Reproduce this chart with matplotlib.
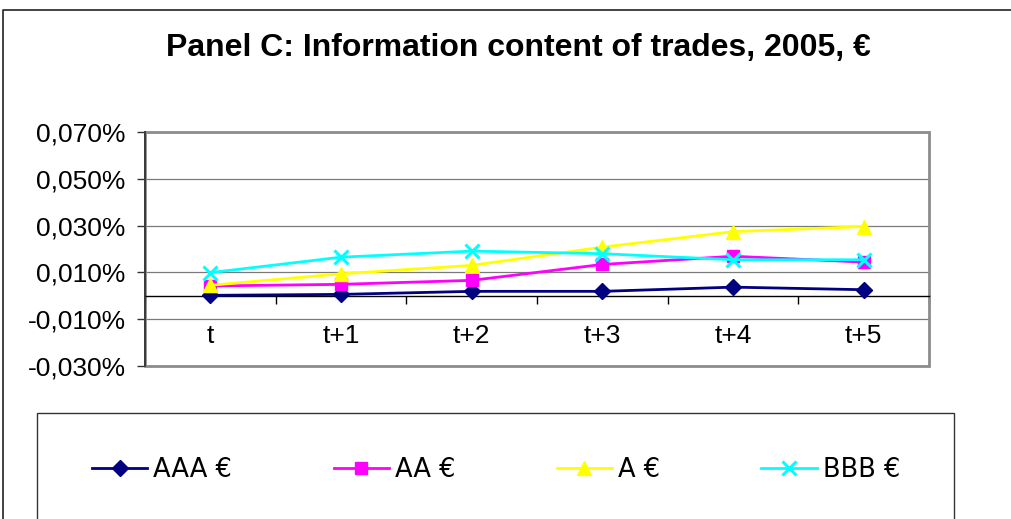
import matplotlib
matplotlib.use("Agg")
import matplotlib.pyplot as plt
from matplotlib.lines import Line2D
from matplotlib.patches import Rectangle

# ---- data (values in percent) ----
categories = ["t", "t+1", "t+2", "t+3", "t+4", "t+5"]
aaa = [0.0002, 0.0006, 0.0019, 0.0019, 0.0037, 0.0026]
aa = [0.0042, 0.0049, 0.0066, 0.0134, 0.0169, 0.0144]
a = [0.0045, 0.0094, 0.0130, 0.0208, 0.0274, 0.0296]
bbb = [0.0099, 0.0165, 0.0191, 0.0180, 0.0154, 0.0154]
series_names = ["AAA €", "AA €", "A €", "BBB €"]
yticks = [-0.03, -0.01, 0.01, 0.03, 0.05, 0.07]
title = "Panel C: Information content of trades, 2005, €"

W, H = 1012, 519
fig = plt.figure(figsize=(W / 100, H / 100), dpi=100)
fig.patch.set_facecolor("white")

def fx(px):
    return px / W

def fy(py):
    return 1 - py / H

ax = fig.add_axes([fx(145), fy(366), fx(929) - fx(145), fy(132) - fy(366)])
ax.set_facecolor("white")

x = list(range(len(categories)))
styles = [
    (aaa, "#000080", "D", 8.0, 1.0),
    (aa, "#FF00FF", "s", 8.5, 1.0),
    (a, "#FFFF00", "^", 10.0, 1.0),
    (bbb, "#00FFFF", "x", 10.0, 2.2),
]
handles = []
for (vals, col, mk, ms, mew), name in zip(styles, series_names):
    (ln,) = ax.plot(x, vals, color=col, lw=2.0, marker=mk, ms=ms,
                    mfc=col, mec=col, mew=mew, label=name, zorder=3,
                    clip_on=False)
    handles.append(ln)

ax.set_xlim(-0.5, len(categories) - 0.5)
ax.set_ylim(-0.03, 0.07)

# y axis
ax.set_yticks(yticks)
ax.set_yticklabels([f"{v:.3f}%".replace(".", ",") for v in yticks],
                   fontsize=19, family="Liberation Sans")
ax.tick_params(axis="y", direction="out", length=6, width=1.0,
               color="#333333", pad=8)
ax.yaxis.grid(True, color="#7a7a7a", lw=0.9)
ax.set_axisbelow(True)

# x axis crossing at zero
ax.spines["bottom"].set_position(("data", 0))
ax.spines["bottom"].set_color("black")
ax.spines["bottom"].set_linewidth(1.0)
ax.spines["bottom"].set_zorder(2)
ax.set_xticks(x)
ax.set_xticklabels(categories, fontsize=19, family="Liberation Sans")
ax.set_xticks([i - 0.5 for i in range(len(categories) + 1)], minor=True)
ax.tick_params(axis="x", which="major", length=0, pad=20)
ax.tick_params(axis="x", which="minor", direction="out", length=6,
               width=1.0, color="black")

ax.spines["top"].set_visible(False)
ax.spines["right"].set_visible(False)
ax.spines["left"].set_color("#333333")
ax.spines["left"].set_linewidth(1.3)
ax.spines["left"].set_zorder(4)

# plot area border (gray)
ax.add_patch(Rectangle((0, 0), 1, 1, transform=ax.transAxes, fill=False,
                       edgecolor="#8c8c8c", lw=2.0, zorder=1, clip_on=False))

# title
fig.text(fx(518), fy(48), title, ha="center", va="center", fontsize=23,
         fontweight="bold", family="Liberation Sans")

# chart outer border (left and top visible)
fig.add_artist(Line2D([fx(3), fx(3), fx(1015)], [fy(525), fy(10), fy(10)],
                      transform=fig.transFigure, color="#222222", lw=1.2))

# legend box
fig.add_artist(Rectangle((fx(37), fy(530)), fx(954) - fx(37), fy(413) - fy(530),
                         transform=fig.transFigure, fill=False,
                         edgecolor="#333333", lw=1.0))

leg = fig.legend(handles=handles, labels=series_names, loc="center left",
                 bbox_to_anchor=(fx(92), fy(470)), ncol=4, frameon=False,
                 prop={"family": "DejaVu Sans", "size": 18.5},
                 handlelength=2.15, handletextpad=0.23, columnspacing=3.95,
                 borderpad=0, borderaxespad=0)

fig.savefig("out.png", dpi=100, facecolor="white")
